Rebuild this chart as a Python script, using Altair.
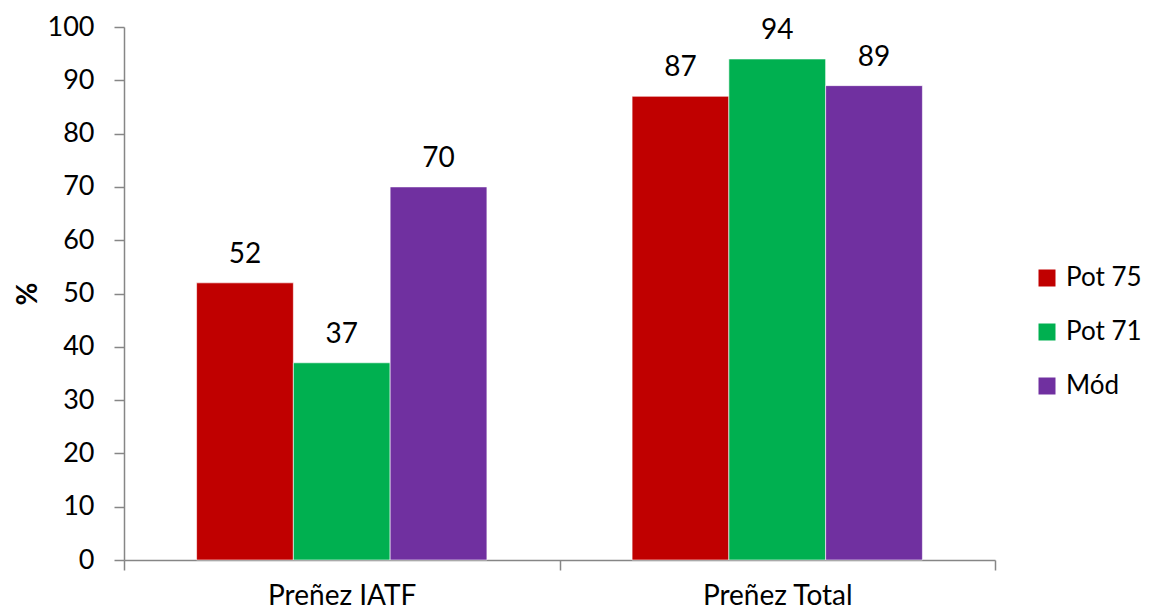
import altair as alt
import pandas as pd

categories = ["Preñez IATF", "Preñez Total"]
series = ["Pot 75", "Pot 71", "Mód"]
colors = ["#C00000", "#00B050", "#7030A0"]
values = {
    "Pot 75": [52, 87],
    "Pot 71": [37, 94],
    "Mód": [70, 89],
}

rows = []
for s in series:
    for c, v in zip(categories, values[s]):
        rows.append({"cat": c, "serie": s, "val": v})
df = pd.DataFrame(rows)

FONT = "Lato"
FS = 28

x = alt.X("cat:N", sort=categories, title=None,
          scale=alt.Scale(paddingInner=0, paddingOuter=0),
          axis=alt.Axis(labelAngle=0, labelFontSize=FS, labelFont=FONT, labelColor="#000",
                        domainColor="#868686", tickColor="#868686", tickSize=10,
                        tickBand="extent", labelPadding=12, domainWidth=1.5, tickWidth=1.5))
xo = alt.XOffset("serie:N", sort=series, scale=alt.Scale(paddingOuter=0.75, paddingInner=0))
y = alt.Y("val:Q", title="%", scale=alt.Scale(domain=[0, 100]),
          axis=alt.Axis(values=list(range(0, 101, 10)), grid=False, labelFontSize=27, labelFont=FONT,
                        labelColor="#000", domainColor="#868686", tickColor="#868686", tickSize=10,
                        labelPadding=20, titleFontSize=FS, titleFont=FONT, titleFontWeight="bold",
                        titlePadding=5, domainWidth=1.5, tickWidth=1.5))

bars = alt.Chart(df).mark_bar(stroke="#ffffff", strokeWidth=0.6).encode(
    x=x, xOffset=xo, y=y,
    color=alt.Color("serie:N", sort=series, scale=alt.Scale(domain=series, range=colors),
                    legend=alt.Legend(title=None, orient="none", legendX=910, legendY=238,
                                      symbolType="square", symbolSize=289, symbolStrokeWidth=0,
                                      labelFontSize=26, labelFont=FONT, labelColor="#000",
                                      rowPadding=28, labelOffset=6)),
)

labels = alt.Chart(df).mark_text(baseline="bottom", dy=-14, fontSize=FS, font=FONT, color="#000").encode(
    x=x, xOffset=xo, y=y, text=alt.Text("val:Q"),
)

chart = alt.layer(bars, labels).properties(
    width=871, height=533,
    autosize=alt.AutoSizeParams(type="none"),
    padding={"left": 116, "top": 19, "right": 150, "bottom": 53},
    background="#ffffff",
    view=alt.ViewBackground(stroke="transparent", strokeWidth=0),
).configure_view(strokeWidth=0, stroke="transparent")

chart.save("out.html", embed_options={"renderer": "svg", "actions": False})
